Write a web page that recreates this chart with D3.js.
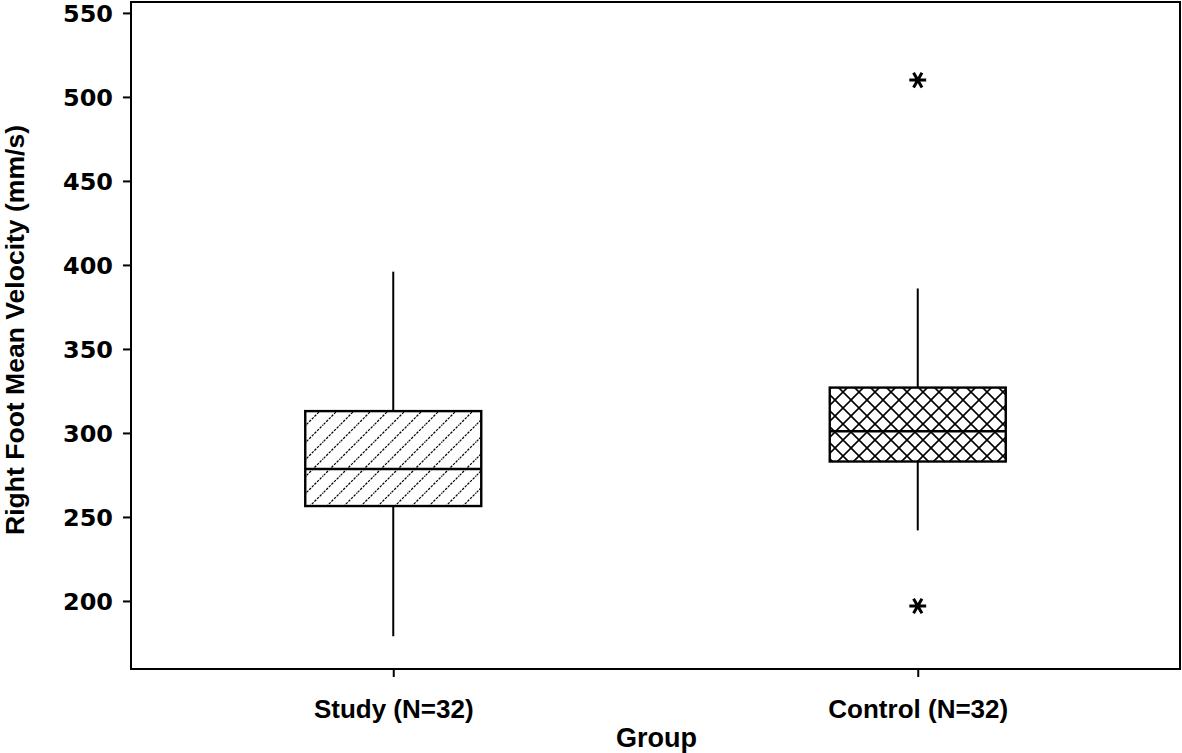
<!DOCTYPE html>
<html>
<head>
<meta charset="utf-8">
<script src="https://cdn.jsdelivr.net/npm/d3@7"></script>
<style>
  html, body { margin: 0; padding: 0; background: #fff; }
  svg { display: block; }
</style>
</head>
<body>
<svg id="chart" width="1182" height="753"></svg>
<script>
// ---- data ----
const groups = ["Study (N=32)", "Control (N=32)"];
const whiskerLow = [179, 242];
const q1 = [256.5, 283];
const medians = [278.5, 301];
const q3 = [313, 327];
const whiskerHigh = [396, 386];
const outlierGroups = ["Control (N=32)", "Control (N=32)"];
const outlierValues = [510, 197];
const yTicks = [200, 250, 300, 350, 400, 450, 500, 550];
const patterns = ["diag", "cross"];
const yTitle = "Right Foot Mean Velocity (mm/s)";
const xTitle = "Group";

(function () {
// ---- layout ----
const svg = d3.select("#chart");
const pLeft = 131, pRight = 1180, pTop = 2, pBottom = 669;

const y = d3.scaleLinear().domain([159.5, 556.5]).range([pBottom, pTop]);
const x = d3.scalePoint().domain(groups).range([pLeft, pRight]).padding(0.5);
const boxW = 176;

// patterns
const defs = svg.append("defs");
const pd = defs.append("pattern").attr("id", "diag")
  .attr("patternUnits", "userSpaceOnUse").attr("width", 17).attr("height", 17);
pd.append("rect").attr("width", 17).attr("height", 17).attr("fill", "#fff");
pd.append("path").attr("d", "M-2,19 L19,-2 M-4,4 L4,-4 M13,21 L21,13")
  .attr("stroke", "#000").attr("stroke-width", 1.2).attr("stroke-dasharray", "2.5,1.2");

const pc = defs.append("pattern").attr("id", "cross")
  .attr("patternUnits", "userSpaceOnUse").attr("width", 16).attr("height", 16)
  .attr("x", 3).attr("y", 0);
pc.append("rect").attr("width", 16).attr("height", 16).attr("fill", "#fff");
pc.append("path").attr("d", "M-2,18 L18,-2 M-2,-2 L18,18 M-4,4 L4,-4 M12,20 L20,12 M-4,12 L4,20 M12,-4 L20,4")
  .attr("stroke", "#000").attr("stroke-width", 1.6);

// whiskers and boxes
const g = svg.append("g");
groups.forEach((grp, i) => {
  const cx = x(grp);
  g.append("line").attr("x1", cx).attr("x2", cx)
    .attr("y1", y(whiskerHigh[i])).attr("y2", y(q3[i]))
    .attr("stroke", "#000").attr("stroke-width", 2);
  g.append("line").attr("x1", cx).attr("x2", cx)
    .attr("y1", y(q1[i])).attr("y2", y(whiskerLow[i]))
    .attr("stroke", "#000").attr("stroke-width", 2);
  g.append("rect")
    .attr("x", cx - boxW / 2).attr("width", boxW)
    .attr("y", y(q3[i])).attr("height", y(q1[i]) - y(q3[i]))
    .attr("fill", `url(#${patterns[i]})`)
    .attr("stroke", "#000").attr("stroke-width", 2.4);
  g.append("line")
    .attr("x1", cx - boxW / 2).attr("x2", cx + boxW / 2)
    .attr("y1", y(medians[i])).attr("y2", y(medians[i]))
    .attr("stroke", "#000").attr("stroke-width", 2.4);
});

// outliers
const star = d3.symbol().type(d3.symbolAsterisk).size(200);
outlierValues.forEach((v, i) => {
  svg.append("path").attr("d", star())
    .attr("transform", `translate(${x(outlierGroups[i])},${y(v)}) rotate(90)`)
    .attr("fill", "none").attr("stroke", "#000").attr("stroke-width", 3);
});

// frame
svg.append("rect").attr("x", pLeft).attr("y", pTop)
  .attr("width", pRight - pLeft).attr("height", pBottom - pTop)
  .attr("fill", "none").attr("stroke", "#000").attr("stroke-width", 2);

// y axis
const yAxis = d3.axisLeft(y).tickValues(yTicks).tickSize(8).tickPadding(10);
const ya = svg.append("g").attr("transform", `translate(${pLeft},0)`).call(yAxis);
ya.select(".domain").remove();
ya.selectAll(".tick line").attr("stroke", "#000").attr("stroke-width", 2);
ya.selectAll(".tick text")
  .attr("dy", 9)
  .attr("font-family", "'DejaVu Sans', sans-serif")
  .attr("font-weight", "bold").attr("font-size", 23).attr("fill", "#000")
  .attr("textLength", 50).attr("lengthAdjust", "spacingAndGlyphs");

// x axis
const xAxis = d3.axisBottom(x).tickSize(8).tickPadding(23);
const xa = svg.append("g").attr("transform", `translate(0,${pBottom})`).call(xAxis);
xa.select(".domain").remove();
xa.selectAll(".tick line").attr("stroke", "#000").attr("stroke-width", 2);
xa.selectAll(".tick text")
  .attr("font-family", "'Liberation Sans', Arial, sans-serif")
  .attr("font-weight", "bold").attr("font-size", 26).attr("fill", "#000");

// titles
svg.append("text").text(xTitle)
  .attr("x", (pLeft + pRight) / 2 + 1).attr("y", 747)
  .attr("text-anchor", "middle")
  .attr("font-family", "'Liberation Sans', Arial, sans-serif")
  .attr("font-weight", "bold").attr("font-size", 27);

svg.append("text").text(yTitle)
  .attr("transform", `translate(24,330) rotate(-90)`)
  .attr("text-anchor", "middle")
  .attr("font-family", "'Liberation Sans', Arial, sans-serif")
  .attr("font-weight", "bold").attr("font-size", 25.5)
  .attr("textLength", 410).attr("lengthAdjust", "spacingAndGlyphs");
})();
</script>
</body>
</html>
